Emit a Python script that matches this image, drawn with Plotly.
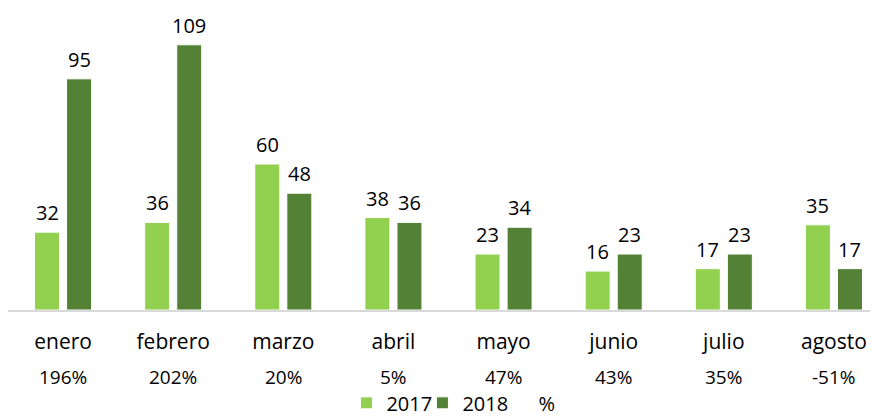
import plotly.graph_objects as go

months = ["enero", "febrero", "marzo", "abril", "mayo", "junio", "julio", "agosto"]
v2017 = [32, 36, 60, 38, 23, 16, 17, 35]
v2018 = [95, 109, 48, 36, 34, 23, 23, 17]
pct = ["196%", "202%", "20%", "5%", "47%", "43%", "35%", "-51%"]

FONT = "Open Sans"
fig = go.Figure()
fig.add_trace(go.Bar(x=months, y=v2017, name="2017", offsetgroup="a",
                     marker=dict(color="#92D050", line=dict(color="white", width=1))))
fig.add_trace(go.Bar(x=months, y=v2018, name="2018", offsetgroup="b",
                     marker=dict(color="#538135", line=dict(color="white", width=1))))
fig.add_trace(go.Bar(x=months, y=[None] * len(months), name="%", offsetgroup="a",
                     marker=dict(color="rgba(0,0,0,0)", line=dict(width=0))))

for m, a, b in zip(months, v2017, v2018):
    fig.add_annotation(x=m, y=a, xref="x", yref="y", text=str(a), showarrow=False, xshift=-16,
                       yanchor="bottom", yshift=4, font=dict(size=20, family=FONT, color="#000000"))
    fig.add_annotation(x=m, y=b, xref="x", yref="y", text=str(b), showarrow=False, xshift=16,
                       yanchor="bottom", yshift=4, font=dict(size=20, family=FONT, color="#000000"))

for m, p in zip(months, pct):
    fig.add_annotation(x=m, y=-0.229, xref="x", yref="paper", text=p, showarrow=False,
                       font=dict(size=19, family=FONT, color="#000000"), yanchor="middle")

fig.update_layout(
    width=870, height=410,
    margin=dict(l=0, r=0, t=10, b=108, autoexpand=False),
    paper_bgcolor="white", plot_bgcolor="white",
    barmode="group", bargap=0.418, bargroupgap=0.22,
    font=dict(family=FONT, size=20, color="#000000"),
    showlegend=True,
    legend=dict(orientation="h", x=0.389, xanchor="left", y=-0.318, yanchor="middle",
                entrywidth=31, entrywidthmode="pixels",
                font=dict(size=20, family=FONT), traceorder="normal"),
    xaxis=dict(range=[-0.5, 7.4], showline=True, linecolor="#D9D9D9", linewidth=1.5,
               ticks="", showgrid=False, automargin=False, ticklabelstandoff=12,
               tickfont=dict(size=21, family=FONT)),
    yaxis=dict(range=[0, 120], visible=False, showgrid=False, automargin=False),
)
fig.write_html("out.html")
